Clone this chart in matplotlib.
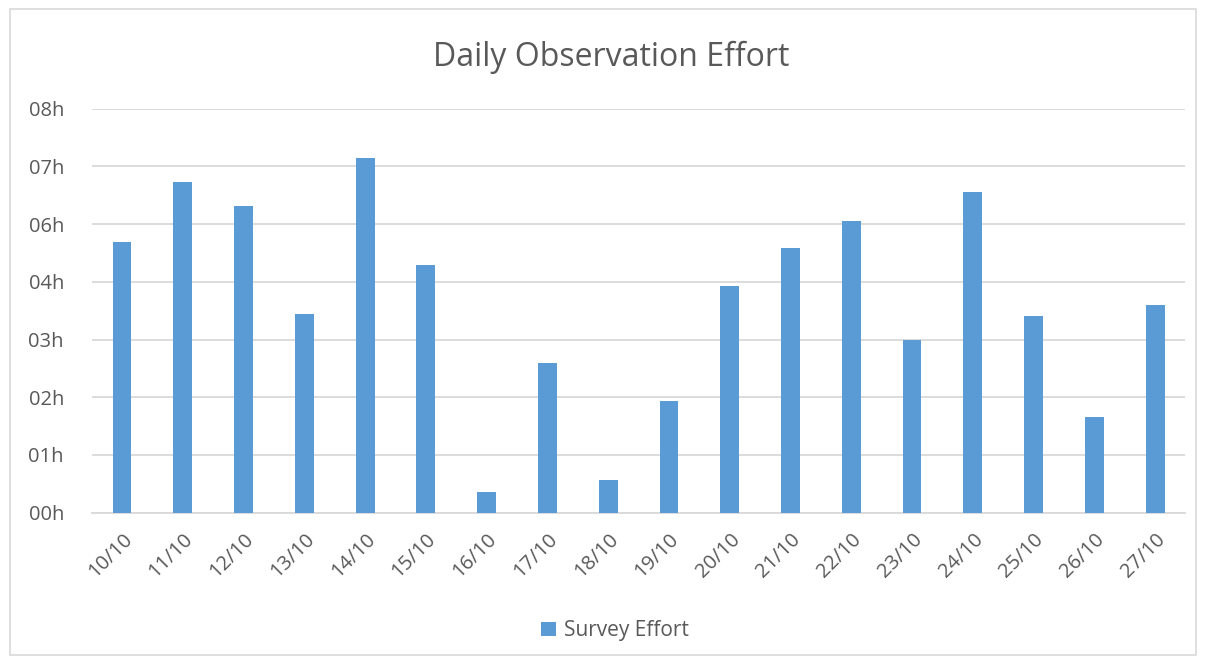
import numpy as np
import matplotlib.pyplot as plt
from matplotlib.patches import Rectangle
from matplotlib.ticker import FuncFormatter

# hours of survey effort per day (axis step is 1.2 h, labels truncated to whole hours)
days = ["10/10", "11/10", "12/10", "13/10", "14/10", "15/10", "16/10", "17/10", "18/10",
        "19/10", "20/10", "21/10", "22/10", "23/10", "24/10", "25/10", "26/10", "27/10"]
effort_h = [5.63, 6.88, 6.38, 4.14, 7.38, 5.16, 0.44, 3.12, 0.69,
            2.33, 4.72, 5.51, 6.07, 3.60, 6.67, 4.10, 2.00, 4.32]
tick_step = 1.2
y_max = 8.4

plt.rcParams["font.family"] = ["Open Sans", "DejaVu Sans"]
text_col = "#595959"

fig = plt.figure(figsize=(12.06, 6.59), dpi=100)
ax = fig.add_axes([0.076, 0.222, 0.907, 0.613])

x = np.arange(len(days))
ax.bar(x, effort_h, width=0.31, color="#5b9bd5", label="Survey Effort", zorder=3)

ax.set_xlim(-0.5, len(days) - 0.5)
ax.set_ylim(0, y_max)
ax.set_yticks(np.arange(0, y_max + 0.01, tick_step))
ax.yaxis.set_major_formatter(FuncFormatter(lambda v, p: f"{int(v + 1e-6):02d}h"))
ax.set_xticks(x)
ax.set_xticklabels(days, rotation=45, ha="right", rotation_mode="anchor")

ax.grid(axis="y", color="#d9d9d9", linewidth=1.3, zorder=0)
for s in ["top", "right", "left"]:
    ax.spines[s].set_visible(False)
ax.spines["bottom"].set_color("#d9d9d9")
ax.spines["bottom"].set_linewidth(1.3)
ax.tick_params(length=0, colors=text_col, labelsize=14.5)
ax.tick_params(axis="y", pad=20)
ax.tick_params(axis="x", pad=12)

fig.text(0.507, 0.913, "Daily Observation Effort", ha="center", va="center",
         fontsize=23, color=text_col)

fig.legend(loc="center", bbox_to_anchor=(0.51, 0.043), frameon=False,
           fontsize=15, labelcolor=text_col, handlelength=0.7, handleheight=0.7,
           handletextpad=0.4)

# light chart-area border
fig.patches.append(Rectangle((0.008, 0.006), 0.984, 0.98, transform=fig.transFigure,
                             fill=False, edgecolor="#d9d9d9", linewidth=1.2))

fig.savefig("out.png", dpi=100)
